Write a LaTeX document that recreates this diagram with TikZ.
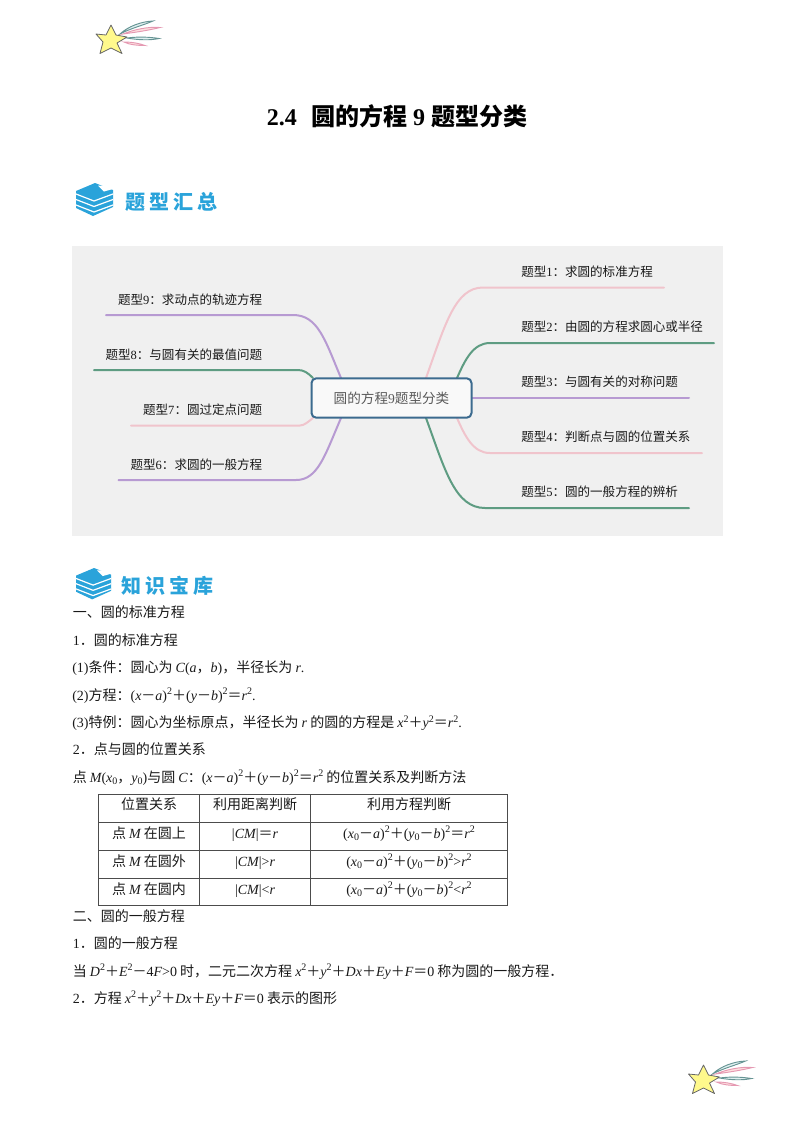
\documentclass[tikz,border=0pt]{standalone}
\usepackage{fontspec}
\setmainfont{Noto Sans CJK SC}
\newfontfamily\lf{Liberation Serif}
\newcommand{\mv}[1]{{\lf\itshape #1}}
\newcommand{\romn}[1]{{\lf #1}}
\newcommand{\supn}[1]{\raisebox{0.36em}{\fontsize{7.5}{8}\selectfont\lf #1}}
\newcommand{\subz}{\raisebox{-0.2em}{\fontsize{7.5}{8}\selectfont\lf 0}}
\newcommand{\xz}{\mv{x}\subz}
\newcommand{\yz}{\mv{y}\subz}
\newcommand{\cx}[2]{\romn{(}#1－\mv{#2}\romn{)}\supn{2}}
\newcommand{\cln}{\char"FF1A\relax}
\newcommand{\cma}{\char"FF0C\relax}
\newcommand{\dt}{\char"FF0E\relax}
\definecolor{mapgray}{HTML}{F0F0F0}
\definecolor{rootblue}{HTML}{3C6B8F}
\definecolor{mappurple}{HTML}{B79AD2}
\definecolor{mapgreen}{HTML}{5E9C82}
\definecolor{mappink}{HTML}{F0C4CC}
\definecolor{headblue}{HTML}{2AA3DA}
\tikzset{
  bodytext/.style={anchor=base west, inner sep=0pt, font=\fontsize{10.5}{12}\selectfont, text=black!90},
  cell/.style={anchor=base, inner sep=0pt, font=\fontsize{10.5}{12}\selectfont, text=black!90},
  typelabel/.style={inner sep=0pt, font=\fontsize{9.4}{11}\selectfont, text=black!90},
  branch/.style={line width=1.5pt, line cap=round},
  headtext/.style={inner sep=0pt, text=headblue, font=\fontsize{15}{16}\selectfont\bfseries\addfontfeature{LetterSpace=20}},
  tableline/.style={black!70, line width=0.7pt},
  shootstar/.pic={
    \draw[black!40!teal!60, fill=teal!12, line width=0.7pt] (24,9) .. controls (32,1.5) and (45,-3.5) .. (57,-4) .. controls (48,0) and (34,3.5) .. (24,9) -- cycle;
    \draw[purple!40, fill=pink!50, line width=0.7pt] (27,9) .. controls (38,4.5) and (52,1.5) .. (64,2.5) .. controls (52,5.5) and (38,7.5) .. (27,9) -- cycle;
    \draw[black!40!teal!60, fill=teal!12, line width=0.7pt] (31,13) .. controls (42,11.5) and (54,12) .. (63,13.5) .. controls (54,15.5) and (42,15) .. (31,13) -- cycle;
    \draw[purple!40, fill=pink!50, line width=0.7pt] (28,17) .. controls (36,17) and (44,18.5) .. (49,20.5) .. controls (42,20.5) and (34,20) .. (28,17) -- cycle;
    \draw[black!60, fill=yellow!45!white, line width=0.6pt, line join=round] (15,0) -- (20,10) -- (31,12) -- (21,18) -- (26,28.5) -- (15,23) -- (4,28.5) -- (7,17) -- (0,9) -- (10,10) -- cycle;
  },
  bookicon/.pic={
    \fill[headblue] (0,8) -- (19,0) -- (37,7) -- (37,24) -- (17,33) -- (0,25) -- cycle;
    \draw[white, line width=0.9pt] (0,11) -- (18,18) -- (37,11);
    \draw[white, line width=0.9pt] (0,16.5) -- (18,23.5) -- (37,16.5);
    \draw[white, line width=0.9pt] (0,22) -- (18,29) -- (37,22);
    \fill[white] (22,2.5) -- (37,2.5) -- (37,6) -- (28,8.5) -- cycle;
  }
}
\begin{document}
\begin{tikzpicture}[x=0.75pt, y=-0.75pt]
  \useasboundingbox (0,0) rectangle (794,1122);
  \pic at (96,25) {shootstar};
  \pic at (688.5,1065) {shootstar};
  \node[inner sep=0pt, font=\fontsize{18}{20}\selectfont\bfseries] (title) at (397,116) {{\lf 2.4}\hspace{0.6em}圆的方程\hspace{0.25em}{\lf 9}\hspace{0.25em}题型分类};
  \pic at (76,183) {bookicon};
  \node[headtext] (headone) at (171,202) {题型汇总};
  \fill[mapgray] (72,246) rectangle (722.5,535.5);

  \coordinate (a1) at (426,378);
  \coordinate (e1) at (664,287.5);
  \coordinate (a2) at (457,378);
  \coordinate (e2) at (714,343);
  \coordinate (a3) at (472,398);
  \coordinate (e3) at (689,398);
  \coordinate (a4) at (457,418);
  \coordinate (e4) at (702,453);
  \coordinate (a5) at (426,418);
  \coordinate (e5) at (689,508);
  \coordinate (a6) at (341,418);
  \coordinate (e6) at (118.5,480);
  \coordinate (a7) at (313,418);
  \coordinate (e7) at (131,425.5);
  \coordinate (a8) at (313,378);
  \coordinate (e8) at (94,370);
  \coordinate (a9) at (341,378);
  \coordinate (e9) at (106,315);
  \draw[branch, mappink] (a1) .. controls (445,325) and (455,287.5) .. (483,287.5) -- (e1);
  \draw[branch, mapgreen] (a2) .. controls (465,360) and (473,343) .. (490,343) -- (e2);
  \draw[branch, mappurple] (a3) -- (e3);
  \draw[branch, mappink] (a4) .. controls (465,436) and (473,453) .. (490,453) -- (e4);
  \draw[branch, mapgreen] (a5) .. controls (445,470) and (455,508) .. (485,508) -- (e5);
  \draw[branch, mappurple] (a6) .. controls (325,455) and (318,480) .. (296,480) -- (e6);
  \draw[branch, mappink] (a7) .. controls (308,422) and (304,425.5) .. (300,425.5) -- (e7);
  \draw[branch, mapgreen] (a8) .. controls (308,373) and (304,370) .. (298,370) -- (e8);
  \draw[branch, mappurple] (a9) .. controls (325,340) and (318,315) .. (293,315) -- (e9);
  \node[draw=rootblue, line width=1.5pt, rounded corners=3.5pt, fill=white!60!mapgray, minimum width=120pt, minimum height=29.5pt, inner sep=0pt, text=black!65, font=\fontsize{10.2}{12}\selectfont] (root) at (391.5,398) {圆的方程{\lf 9}题型分类};

  \node[typelabel, anchor=west] (t1) at (521,271.5) {题型{\lf 1}\cln 求圆的标准方程};
  \node[typelabel, anchor=west] (t2) at (521,326.5) {题型{\lf 2}\cln 由圆的方程求圆心或半径};
  \node[typelabel, anchor=west] (t3) at (521,381.5) {题型{\lf 3}\cln 与圆有关的对称问题};
  \node[typelabel, anchor=west] (t4) at (521,436.5) {题型{\lf 4}\cln 判断点与圆的位置关系};
  \node[typelabel, anchor=west] (t5) at (521,491.5) {题型{\lf 5}\cln 圆的一般方程的辨析};
  \node[typelabel, anchor=east] (t6) at (262.5,464.5) {题型{\lf 6}\cln 求圆的一般方程};
  \node[typelabel, anchor=east] (t7) at (262.5,409.5) {题型{\lf 7}\cln 圆过定点问题};
  \node[typelabel, anchor=east] (t8) at (262.5,354.5) {题型{\lf 8}\cln 与圆有关的最值问题};
  \node[typelabel, anchor=east] (t9) at (262.5,299.5) {题型{\lf 9}\cln 求动点的轨迹方程};

  \pic[scale=0.95] at (76,568) {bookicon};
  \node[headtext] (headtwo) at (167,586) {知识宝库};

  \node[bodytext] (l1) at (72.5,617.5) {一、圆的标准方程};
  \node[bodytext] (l2) at (72.5,645) {\romn{1}\dt 圆的标准方程};
  \node[bodytext] (l3) at (72,672.5) {\romn{(1)}条件\cln 圆心为 \mv{C}\romn{(}\mv{a}\cma\mv{b}\romn{)}\cma 半径长为 \mv{r}\romn{.}};
  \node[bodytext] (l4) at (72,700) {\romn{(2)}方程\cln\cx{\mv{x}}{a}＋\cx{\mv{y}}{b}＝\mv{r}\supn{2}\romn{.}};
  \node[bodytext] (l5) at (72,727.5) {\romn{(3)}特例\cln 圆心为坐标原点\cma 半径长为 \mv{r} 的圆的方程是 \mv{x}\supn{2}＋\mv{y}\supn{2}＝\mv{r}\supn{2}\romn{.}};
  \node[bodytext] (l6) at (72.5,754.5) {\romn{2}\dt 点与圆的位置关系};
  \node[bodytext] (l7) at (72.5,782) {点 \mv{M}\romn{(}\xz\cma\yz\romn{)}与圆 \mv{C}\cln\cx{\mv{x}}{a}＋\cx{\mv{y}}{b}＝\mv{r}\supn{2} 的位置关系及判断方法};

  \foreach \y in {794,822,850,878,905.5}
    \draw[tableline] (98.5,\y) -- (507.5,\y);
  \foreach \x in {98.5,199.5,310.5,507.5}
    \draw[tableline] (\x,794) -- (\x,905.5);
  \node[cell] (c11) at (149,809) {位置关系};
  \node[cell] (c12) at (255,809) {利用距离判断};
  \node[cell] (c13) at (409,809) {利用方程判断};
  \node[cell] (c21) at (149,838) {点 \mv{M} 在圆上};
  \node[cell] (c22) at (255,838) {\romn{|}\mv{CM}\romn{|}＝\mv{r}};
  \node[cell] (c23) at (409,838) {\cx{\xz}{a}＋\cx{\yz}{b}＝\mv{r}\supn{2}};
  \node[cell] (c31) at (149,866) {点 \mv{M} 在圆外};
  \node[cell] (c32) at (255,866) {\romn{|}\mv{CM}\romn{|>}\mv{r}};
  \node[cell] (c33) at (409,866) {\cx{\xz}{a}＋\cx{\yz}{b}\romn{>}\mv{r}\supn{2}};
  \node[cell] (c41) at (149,894) {点 \mv{M} 在圆内};
  \node[cell] (c42) at (255,894) {\romn{|}\mv{CM}\romn{|<}\mv{r}};
  \node[cell] (c43) at (409,894) {\cx{\xz}{a}＋\cx{\yz}{b}\romn{<}\mv{r}\supn{2}};

  \node[bodytext] (l8) at (72.5,921) {二、圆的一般方程};
  \node[bodytext] (l9) at (72.5,948.5) {\romn{1}\dt 圆的一般方程};
  \node[bodytext] (l10) at (72.5,976) {当 \mv{D}\supn{2}＋\mv{E}\supn{2}－\romn{4}\mv{F}\romn{>0} 时\cma 二元二次方程 \mv{x}\supn{2}＋\mv{y}\supn{2}＋\mv{Dx}＋\mv{Ey}＋\mv{F}＝\romn{0} 称为圆的一般方程\dt};
  \node[bodytext] (l11) at (72.5,1003) {\romn{2}\dt 方程 \mv{x}\supn{2}＋\mv{y}\supn{2}＋\mv{Dx}＋\mv{Ey}＋\mv{F}＝\romn{0} 表示的图形};
\end{tikzpicture}
\end{document}
